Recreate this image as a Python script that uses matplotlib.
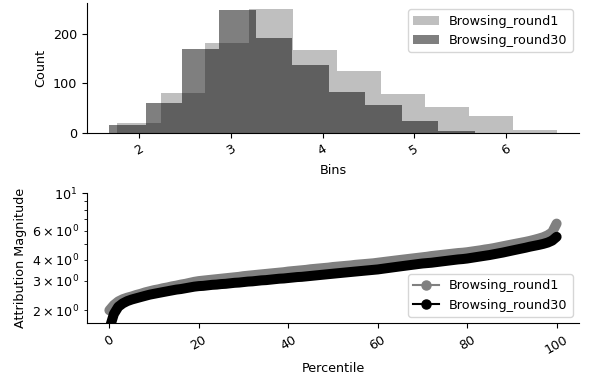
import matplotlib
matplotlib.use("Agg")
import matplotlib.pyplot as plt
from matplotlib.lines import Line2D

plt.rcParams["font.size"] = 9.2

labels = ["Browsing_round1", "Browsing_round30"]
colors = ["gray", "k"]

# histogram bins (edges) and counts
edges_r1 = [1.753, 2.233, 2.714, 3.194, 3.674, 4.155, 4.635, 5.115, 5.596, 6.076, 6.556]
counts_r1 = [20, 81, 182, 250, 168, 126, 79, 53, 34, 7]
edges_r30 = [1.673, 2.072, 2.471, 2.870, 3.269, 3.668, 4.067, 4.466, 4.865, 5.264, 5.663]
counts_r30 = [17, 61, 170, 249, 192, 138, 83, 57, 25, 5]

# attribution magnitude at each percentile 0..100
percentile = list(range(101))
mag_r1 = [2.00, 2.15, 2.26, 2.33, 2.38, 2.42, 2.47, 2.51, 2.56, 2.60,
          2.64, 2.67, 2.71, 2.74, 2.78, 2.81, 2.85, 2.88, 2.92, 2.96,
          2.99, 3.01, 3.03, 3.05, 3.07, 3.09, 3.11, 3.13, 3.15, 3.17,
          3.20, 3.22, 3.24, 3.26, 3.28, 3.30, 3.32, 3.34, 3.36, 3.38,
          3.41, 3.43, 3.45, 3.47, 3.49, 3.52, 3.54, 3.56, 3.58, 3.60,
          3.63, 3.65, 3.67, 3.69, 3.71, 3.74, 3.76, 3.78, 3.80, 3.82,
          3.85, 3.88, 3.91, 3.94, 3.97, 4.00, 4.03, 4.06, 4.09, 4.12,
          4.15, 4.18, 4.22, 4.25, 4.28, 4.31, 4.34, 4.37, 4.40, 4.42,
          4.45, 4.49, 4.53, 4.57, 4.62, 4.66, 4.71, 4.77, 4.83, 4.89,
          4.95, 5.01, 5.07, 5.13, 5.20, 5.28, 5.37, 5.47, 5.62, 5.85,
          6.60]
mag_r30 = [1.55, 1.90, 2.10, 2.20, 2.27, 2.32, 2.36, 2.40, 2.44, 2.48,
           2.51, 2.54, 2.57, 2.60, 2.63, 2.66, 2.68, 2.71, 2.74, 2.77,
           2.79, 2.80, 2.82, 2.84, 2.85, 2.87, 2.88, 2.90, 2.92, 2.93,
           2.95, 2.97, 2.98, 3.00, 3.02, 3.03, 3.05, 3.07, 3.09, 3.10,
           3.12, 3.14, 3.16, 3.17, 3.19, 3.21, 3.23, 3.25, 3.27, 3.29,
           3.31, 3.33, 3.35, 3.37, 3.39, 3.41, 3.43, 3.45, 3.47, 3.49,
           3.51, 3.54, 3.57, 3.60, 3.63, 3.66, 3.69, 3.72, 3.75, 3.78,
           3.81, 3.83, 3.85, 3.88, 3.91, 3.94, 3.97, 4.00, 4.03, 4.05,
           4.08, 4.12, 4.16, 4.20, 4.24, 4.28, 4.33, 4.38, 4.43, 4.49,
           4.55, 4.61, 4.67, 4.73, 4.80, 4.86, 4.92, 4.99, 5.08, 5.22,
           5.50]

fig = plt.figure(figsize=(5.92, 3.80), dpi=100)
ax1 = fig.add_axes([0.147, 0.650, 0.831, 0.342])
ax2 = fig.add_axes([0.147, 0.149, 0.831, 0.342])

# top: overlaid histograms
ax1.hist(edges_r1[:-1], bins=edges_r1, weights=counts_r1, color=colors[0], alpha=0.5, label=labels[0])
ax1.hist(edges_r30[:-1], bins=edges_r30, weights=counts_r30, color=colors[1], alpha=0.5, label=labels[1])
ax1.set_xlabel("Bins")
ax1.set_ylabel("Count")
ax1.legend(loc="upper right")

# bottom: sorted magnitudes vs percentile; the dense markers of the original
# form a solid band, so draw a thick round-capped line instead
for mags, c in zip([mag_r1, mag_r30], colors):
    ax2.plot(percentile, mags, "-", color=c, linewidth=7.2,
             solid_capstyle="round", solid_joinstyle="round")
ax2.set_yscale("log")
ax2.set_ylim(1.67, 10)
ax2.set_xlabel("Percentile")
ax2.set_ylabel("Attribution Magnitude")
handles = [Line2D([], [], color=c, marker="o", markersize=6.5, linewidth=1.5) for c in colors]
ax2.legend(handles, labels, loc="lower right")

for ax in (ax1, ax2):
    ax.spines["top"].set_visible(False)
    ax.spines["right"].set_visible(False)
    for lab in ax.get_xticklabels():
        lab.set_rotation(30)

fig.savefig("out.png", dpi=100)
